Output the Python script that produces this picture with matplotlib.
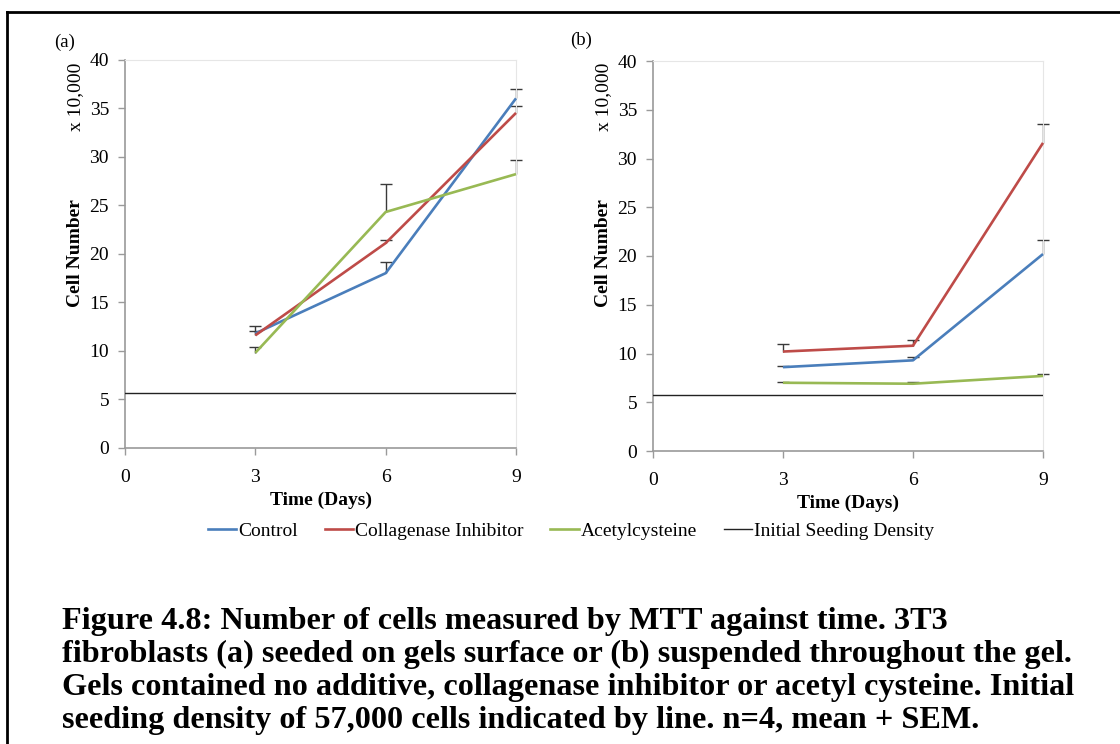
import matplotlib
matplotlib.use('Agg')
import matplotlib.pyplot as plt
from matplotlib.lines import Line2D
import numpy as np

plt.rcParams['font.family'] = ['Liberation Serif', 'DejaVu Serif']

days = [3, 6, 9]
series = ['Control', 'Collagenase Inhibitor', 'Acetylcysteine']
colors = ['#4A7EBB', '#BE4B48', '#98B954']
seeding = 5.7

# (a) seeded on gel surface
a_mean = {'Control': [11.8, 18.0, 36.0],
          'Collagenase Inhibitor': [11.6, 21.1, 34.5],
          'Acetylcysteine': [9.8, 24.3, 28.2]}
a_sem = {'Control': [0.8, 1.1, 1.0],
         'Collagenase Inhibitor': [0.4, 0.3, 0.7],
         'Acetylcysteine': [0.6, 2.9, 1.5]}

# (b) suspended throughout gel
b_mean = {'Control': [8.6, 9.3, 20.2],
          'Collagenase Inhibitor': [10.2, 10.8, 31.6],
          'Acetylcysteine': [7.0, 6.9, 7.7]}
b_sem = {'Control': [0.1, 0.3, 1.4],
         'Collagenase Inhibitor': [0.8, 0.6, 1.9],
         'Acetylcysteine': [0.05, 0.2, 0.2]}

W, H = 1120, 744
fig = plt.figure(figsize=(W / 100, H / 100), dpi=100)

def px(l, r, top, bot):
    return [l / W, (H - bot) / H, (r - l) / W, (bot - top) / H]

def panel(rect, means, sems, tag, tagpos, ylabx):
    ax = fig.add_axes(rect)
    for name, c in zip(series, colors):
        eb = ax.errorbar(days, means[name], yerr=[np.zeros(3), sems[name]], fmt='none',
                         ecolor='#3a3a3a', elinewidth=1, capsize=4, capthick=1, zorder=2)
        eb[1][0].set_visible(False)
        for art in list(eb[1]) + list(eb[2]):
            art.set_clip_on(False)
    for name, c in zip(series, colors):
        ax.plot(days, means[name], color=c, lw=1.9, zorder=3, solid_capstyle='butt',
                clip_on=False)
    ax.plot([0, 9], [seeding, seeding], color='#222222', lw=1, zorder=3)
    ax.set_xlim(0, 9)
    ax.set_ylim(0, 40)
    ax.set_xticks([0, 3, 6, 9])
    ax.set_yticks(range(0, 41, 5))
    for s in ['left', 'bottom']:
        ax.spines[s].set_color('#9a9a9a')
        ax.spines[s].set_linewidth(1.2)
    for s in ['top', 'right']:
        ax.spines[s].set_color('#e6e6e6')
        ax.spines[s].set_linewidth(0.8)
    ax.tick_params(direction='out', length=5, width=1, color='#9a9a9a', labelsize=14)
    ax.tick_params(axis='y', pad=6.5)
    ax.tick_params(axis='x', pad=10)
    ax.set_xlabel('Time (Days)', fontsize=14, fontweight='bold', labelpad=4)
    fig.text(tagpos[0] / W, 1 - tagpos[1] / H, tag, fontsize=13.5, ha='center', va='center')
    fig.text(ylabx / W, 1 - 97 / H, 'x 10,000', fontsize=14, rotation=90, ha='center', va='center')
    fig.text(ylabx / W, 1 - 253 / H, 'Cell Number', fontsize=14, fontweight='bold',
             rotation=90, ha='center', va='center')
    return ax

panel(px(125, 516, 59.5, 448), a_mean, a_sem, '(a)', (65, 42), 76)
panel(px(653, 1043, 61, 451), b_mean, b_sem, '(b)', (581, 40), 604)

handles = [Line2D([], [], color=c, lw=1.9) for c in colors]
handles.append(Line2D([], [], color='#222222', lw=1))
fig.legend(handles, series + ['Initial Seeding Density'], loc='center',
           bbox_to_anchor=(571 / W, 1 - 531 / H), ncol=4, frameon=False,
           fontsize=14, handlelength=1.45, handletextpad=0.1, columnspacing=1.4)

caption = ['Figure 4.8: Number of cells measured by MTT against time. 3T3',
           'fibroblasts (a) seeded on gels surface or (b) suspended throughout the gel.',
           'Gels contained no additive, collagenase inhibitor or acetyl cysteine. Initial',
           'seeding density of 57,000 cells indicated by line. n=4, mean + SEM.']
for i, line in enumerate(caption):
    fig.text(62 / W, 1 - (629 + 33 * i) / H, line, fontsize=23.2, fontweight='bold',
             ha='left', va='baseline')

# page frame
fig.add_artist(Line2D([7 / W, 1], [1 - 12 / H, 1 - 12 / H], color='black', lw=2))
fig.add_artist(Line2D([7 / W, 7 / W], [0, 1 - 12 / H], color='black', lw=2))

fig.savefig('out.png', dpi=100)
